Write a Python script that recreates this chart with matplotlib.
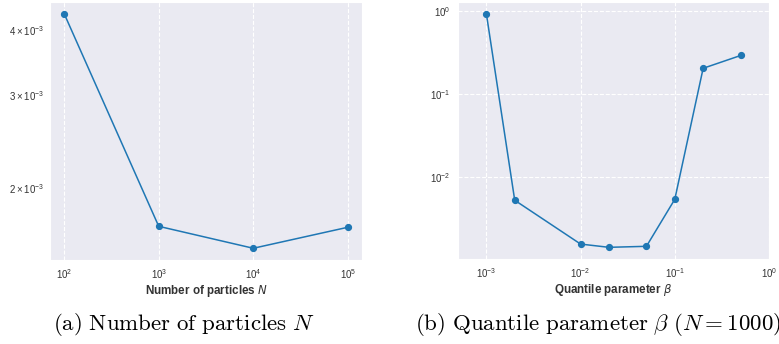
import matplotlib
matplotlib.use("Agg")
import matplotlib.pyplot as plt
import seaborn as sns

# Data
n_particles = [1e2, 1e3, 1e4, 1e5]
err_n = [4.29e-3, 1.693e-3, 1.538e-3, 1.686e-3]

beta = [1e-3, 2e-3, 1e-2, 2e-2, 5e-2, 1e-1, 2e-1, 5e-1]
err_beta = [0.929, 5.23e-3, 1.55e-3, 1.416e-3, 1.456e-3, 5.37e-3, 0.204, 0.291]

xlabel_a = r"Number of particles $N$"
xlabel_b = r"Quantile parameter $\beta$"
caption_a = r"$\mathrm{(a)\ Number\ of\ particles\ }N$"
caption_b = r"$\mathrm{(b)\ Quantile\ parameter\ }\beta\ \mathrm{(}N=1000\mathrm{)}$"

sns.set_style("darkgrid", {"grid.linestyle": "--"})
plt.rcParams['font.family'] = ['Liberation Sans', 'DejaVu Sans']
plt.rcParams['mathtext.fontset'] = 'dejavusans'

W, H = 779, 344
fig = plt.figure(figsize=(W / 100, H / 100), dpi=100)

ax1 = fig.add_axes([50 / W, (H - 260) / H, 312 / W, 258 / H])
ax2 = fig.add_axes([458 / W, (H - 259) / H, 311 / W, 257 / H])

color = "#1f77b4"
ax1.plot(n_particles, err_n, "o-", color=color, lw=1.1, ms=4.2)
ax1.set_xscale("log")
ax1.set_yscale("log")
ax1.set_xlabel(xlabel_a, fontsize=8.4, fontweight="bold", labelpad=1)

ax2.plot(beta, err_beta, "o-", color=color, lw=1.1, ms=4.2)
ax2.set_xscale("log")
ax2.set_yscale("log")
ax2.set_xlim(5e-4, 1)
ax2.set_xlabel(xlabel_b, fontsize=8.4, fontweight="bold", labelpad=1)

for ax in (ax1, ax2):
    ax.tick_params(axis="both", which="both", labelsize=7, pad=2, colors="#333333")
    ax.grid(True, which="major", color="white", linestyle="--", lw=0.8)
    ax.grid(False, which="minor")
    ax.xaxis.label.set_color("#333333")

fig.text(53 / W, 1 - 325 / H, caption_a, fontsize=16.5, math_fontfamily="cm",
         ha="left", va="center", color="black")
fig.text(415 / W, 1 - 325 / H, caption_b, fontsize=16.5, math_fontfamily="cm",
         ha="left", va="center", color="black")

fig.savefig("out.png", dpi=100, facecolor="white")
